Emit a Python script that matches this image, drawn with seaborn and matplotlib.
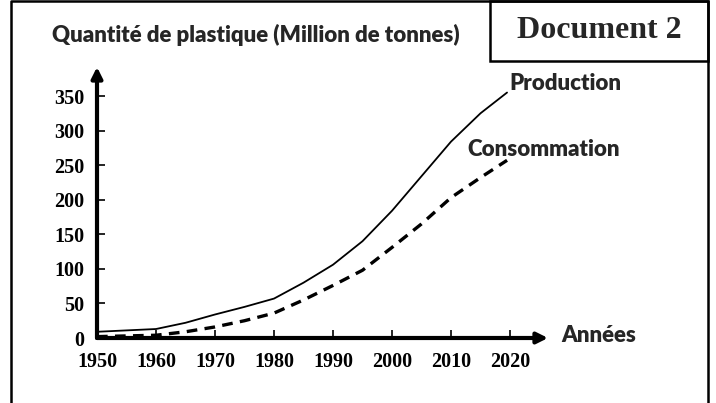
import matplotlib
matplotlib.use("Agg")
import matplotlib.pyplot as plt
import seaborn as sns
import pandas as pd
from matplotlib.lines import Line2D
from matplotlib.patches import Rectangle

years = [1950, 1960, 1965, 1970, 1975, 1980, 1985, 1990, 1995, 2000, 2005, 2010, 2015, 2019.5]
production = [9, 13, 22, 34, 45, 57, 80, 106, 140, 184, 234, 284, 325, 355]
consommation = [2, 4, 9, 16, 25, 36, 55, 76, 98, 131, 165, 203, 232, 257]
year_ticks = [1950, 1960, 1970, 1980, 1990, 2000, 2010, 2020]
value_ticks = [0, 50, 100, 150, 200, 250, 300, 350]

sns.set_theme(style="white")
W, H = 716, 403
fig = plt.figure(figsize=(W / 100, H / 100), dpi=100)
fig.patch.set_facecolor("white")

def fx(px):
    return px / W

def fy(py):
    return 1 - py / H

ax = fig.add_axes([fx(97), fy(338), fx(548) - fx(97), fy(67) - fy(338)])
ax.set_facecolor("none")

df = pd.DataFrame({"Année": years, "Production": production, "Consommation": consommation})
sns.lineplot(data=df, x="Année", y="Production", ax=ax, color="black", lw=1.3)
sns.lineplot(data=df, x="Année", y="Consommation", ax=ax, color="black", lw=2.4,
             linestyle=(0, (3.2, 2.2)))

ax.set_xlim(1950, 1950 + (548 - 97) / 5.9)
ax.set_ylim(0, (338 - 67) / (242 / 350))
for s in ax.spines.values():
    s.set_visible(False)

ax.set_xticks(year_ticks)
ax.set_yticks(value_ticks)
serif = {"family": "Liberation Serif", "weight": "bold", "size": 14.5}
ax.set_xticklabels([str(y) for y in year_ticks], fontdict=serif)
ax.set_yticklabels([str(v) for v in value_ticks], fontdict=serif)
ax.tick_params(axis="x", direction="in", length=6, width=1.2, pad=10, bottom=True, colors="black")
ax.tick_params(axis="y", direction="in", length=6, width=1.2, pad=9, left=True, colors="black")
ax.set_xlabel("")
ax.set_ylabel("")

arrow = dict(arrowstyle="-|>", lw=3, color="black", mutation_scale=16, shrinkA=0, shrinkB=0)
ax.annotate("", xy=(1, 0), xytext=(0, 0), xycoords="axes fraction", arrowprops=arrow)
ax.annotate("", xy=(0, 1), xytext=(0, 0), xycoords="axes fraction", arrowprops=arrow)

sans = "Lato"
wt = "heavy"
fig.text(fx(52), fy(35), "Quantité de plastique (Million de tonnes)", family=sans,
         weight=wt, size=16, va="center", ha="left")
fig.text(fx(509), fy(84), "Production", family=sans, weight=wt, size=16, va="center", ha="left")
fig.text(fx(467), fy(150), "Consommation", family=sans, weight=wt, size=16, va="center", ha="left")
fig.text(fx(561), fy(335), "Années", family=sans, weight=wt, size=16, va="center", ha="left")
fig.text(fx(599), fy(30), "Document 2", family="Liberation Serif", weight="bold", size=23,
         va="center", ha="center")

frame_x = [fx(11), fx(11), fx(708), fx(708)]
frame_y = [fy(403), fy(1), fy(1), fy(403)]
fig.lines.append(Line2D(frame_x, frame_y, transform=fig.transFigure, lw=1.8, color="black"))
fig.patches.append(Rectangle((fx(490), fy(61)), fx(708) - fx(490), fy(1) - fy(61),
                             transform=fig.transFigure, fill=False, lw=1.8, ec="black"))

fig.savefig("out.png", dpi=100)
